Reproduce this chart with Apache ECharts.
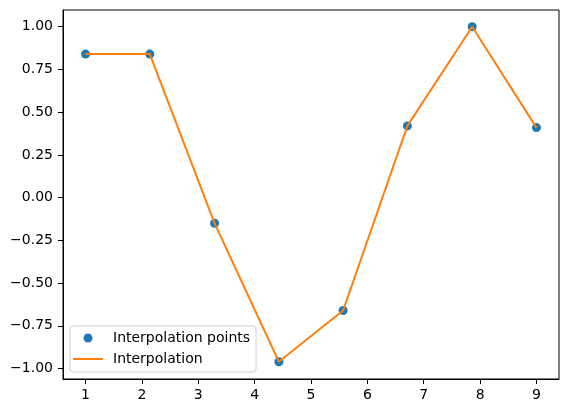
<!DOCTYPE html>
<html>
<head>
<meta charset="utf-8">
<script src="https://cdn.jsdelivr.net/npm/echarts@6/dist/echarts.min.js"></script>
<style>
  html, body { margin: 0; padding: 0; background: #fff; }
  #chart { width: 568px; height: 413px; }
</style>
</head>
<body>
<div id="chart"></div>
<script>
var xPoints = [1, 2.14, 3.29, 4.43, 5.57, 6.71, 7.86, 9];
var yPoints = [0.84, 0.84, -0.15, -0.96, -0.66, 0.42, 1.00, 0.41];
var xTicks = [1, 2, 3, 4, 5, 6, 7, 8, 9];
var yTicks = [-1.00, -0.75, -0.50, -0.25, 0.00, 0.25, 0.50, 0.75, 1.00];

var chart = echarts.init(document.getElementById('chart'));
var font = 'DejaVu Sans';

var pts = xPoints.map(function (x, i) { return [x, yPoints[i]]; });

// matplotlib uses a real minus sign
function fmtY(v) {
  var s = v.toFixed(2);
  return s.charAt(0) === '-' ? '\u2212' + s.slice(1) : s;
}

var option = {
  animation: false,
  grid: {
    left: 63, top: 10, right: 9, bottom: 34,
    show: true, borderColor: '#000', borderWidth: 1
  },
  xAxis: {
    type: 'value',
    min: 0.6, max: 9.4,
    splitLine: { show: false },
    axisLine: { show: true, onZero: false, lineStyle: { color: '#000', width: 1 } },
    axisTick: { show: true, inside: false, length: 5, customValues: xTicks, lineStyle: { color: '#000' } },
    axisLabel: {
      customValues: xTicks, color: '#000', fontFamily: font, fontSize: 14, margin: 9,
      formatter: function (v) { return String(v); }
    }
  },
  yAxis: {
    type: 'value',
    min: -1.061, max: 1.098,
    splitLine: { show: false },
    axisLine: { show: true, onZero: false, lineStyle: { color: '#000', width: 1 } },
    axisTick: { show: true, inside: false, length: 5, customValues: yTicks, lineStyle: { color: '#000' } },
    axisLabel: {
      customValues: yTicks, color: '#000', fontFamily: font, fontSize: 14, margin: 10,
      formatter: fmtY
    }
  },
  legend: {
    orient: 'vertical',
    left: 70, top: 326,
    padding: [5, 6, 6, 3],
    itemWidth: 30, itemHeight: 9, itemGap: 7,
    backgroundColor: 'rgba(255,255,255,0.8)',
    borderColor: '#d0d0d0', borderWidth: 1, borderRadius: 3,
    textStyle: { fontFamily: font, fontSize: 14, color: '#000', padding: [0, 0, 0, 5] },
    data: [
      { name: 'Interpolation points', icon: 'circle' },
      { name: 'Interpolation', icon: 'path://M0,0 L30,0 L30,2 L0,2 Z', itemStyle: { color: '#ff7f0e' } }
    ]
  },
  series: [
    {
      name: 'Interpolation points',
      type: 'scatter',
      data: pts,
      symbolSize: 9,
      itemStyle: { color: '#1f77b4', opacity: 1 },
      z: 2
    },
    {
      name: 'Interpolation',
      type: 'line',
      data: pts,
      symbol: 'none',
      lineStyle: { color: '#ff7f0e', width: 2 },
      itemStyle: { color: '#ff7f0e' },
      z: 3
    }
  ]
};

chart.setOption(option);
</script>
</body>
</html>
